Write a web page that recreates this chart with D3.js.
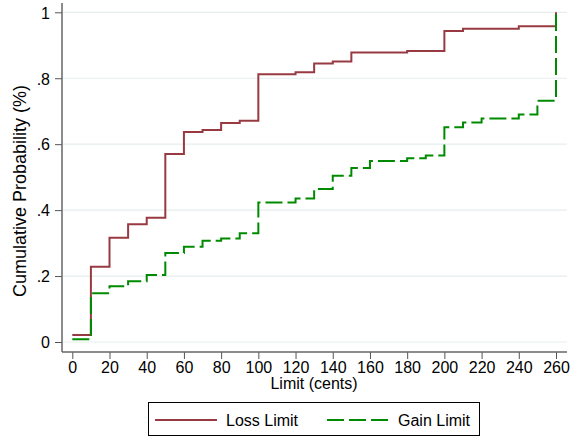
<!DOCTYPE html>
<html>
<head>
<meta charset="utf-8">
<script src="https://cdn.jsdelivr.net/npm/d3@7"></script>
<style>
  html, body { margin: 0; padding: 0; background: #fff; }
  svg { display: block; font-family: "Liberation Sans", Arial, Helvetica, sans-serif; }
</style>
</head>
<body>
<svg id="chart" width="577" height="437"></svg>
<script>
// limits in cents, cumulative share of subjects
const lossLimits = [0, 10, 20, 30, 40, 50, 60, 70, 80, 90, 100, 120, 130, 140, 150, 180, 200, 210, 240, 260];
const lossProb = [0.021, 0.228, 0.316, 0.357, 0.377, 0.570, 0.637, 0.643, 0.664, 0.671, 0.812, 0.818, 0.845, 0.851, 0.878, 0.883, 0.943, 0.950, 0.958, 1.0];

const gainLimits = [0, 10, 20, 30, 40, 50, 60, 70, 80, 90, 100, 120, 130, 140, 150, 160, 180, 190, 200, 210, 220, 240, 250, 260];
const gainProb = [0.008, 0.148, 0.169, 0.184, 0.203, 0.270, 0.289, 0.307, 0.314, 0.330, 0.423, 0.435, 0.464, 0.504, 0.528, 0.549, 0.557, 0.566, 0.651, 0.666, 0.678, 0.690, 0.732, 1.0];

const xTicks = d3.range(0, 261, 20);
const yTicks = [0, 0.2, 0.4, 0.6, 0.8, 1];
const yTickLabel = d => d === 0 ? '0' : d === 1 ? '1' : String(d).replace(/^0/, '');

const svg = d3.select('#chart');

// plot region edges
const plotLeft = 62, plotRight = 567, plotTop = 3, plotBottom = 352;

const x = d3.scaleLinear().domain([0, 260]).range([72.3, 556]);
const y = d3.scaleLinear().domain([0, 1]).range([342, 12.3]);

// gridlines
svg.append('g').selectAll('line')
  .data(yTicks)
  .enter().append('line')
  .attr('x1', plotLeft).attr('x2', plotRight)
  .attr('y1', d => y(d)).attr('y2', d => y(d))
  .attr('stroke', '#e6eef0')
  .attr('stroke-width', 1.2);

// the two step curves
const step = d3.line()
  .x(d => x(d[0]))
  .y(d => y(d[1]))
  .curve(d3.curveStepAfter);

svg.append('path')
  .datum(d3.zip(lossLimits, lossProb))
  .attr('d', step)
  .attr('fill', 'none')
  .attr('stroke', '#973a42')
  .attr('stroke-width', 2);

svg.append('path')
  .datum(d3.zip(gainLimits, gainProb))
  .attr('d', step)
  .attr('fill', 'none')
  .attr('stroke', '#008a00')
  .attr('stroke-width', 2)
  .attr('stroke-dasharray', '17,5');

// axes
const xAxis = svg.append('g')
  .attr('transform', `translate(0,${plotBottom})`)
  .call(d3.axisBottom(x).tickValues(xTicks).tickSize(7).tickSizeOuter(0).tickPadding(3));

const yAxis = svg.append('g')
  .attr('transform', `translate(${plotLeft},0)`)
  .call(d3.axisLeft(y).tickValues(yTicks).tickFormat(yTickLabel).tickSize(7).tickSizeOuter(0).tickPadding(5));

[xAxis, yAxis].forEach(g => {
  g.select('.domain').remove();
  g.selectAll('.tick line').attr('stroke', '#555');
  g.selectAll('.tick text')
    .attr('fill', '#000')
    .style('font-size', '16px')
    .style('font-family', '"Liberation Sans", Arial, Helvetica, sans-serif');
});
yAxis.selectAll('.tick text').attr('dy', '0.36em');

// axis lines across the full plot region
svg.append('line')
  .attr('x1', plotLeft).attr('x2', plotLeft).attr('y1', plotTop).attr('y2', plotBottom)
  .attr('stroke', '#666').attr('stroke-width', 1.5);
svg.append('line')
  .attr('x1', plotLeft).attr('x2', plotRight).attr('y1', plotBottom).attr('y2', plotBottom)
  .attr('stroke', '#666').attr('stroke-width', 1.5);

// titles
svg.append('text')
  .attr('x', 314).attr('y', 389)
  .attr('text-anchor', 'middle')
  .style('font-size', '16px')
  .text('Limit (cents)');

svg.append('text')
  .attr('transform', 'translate(26,191) rotate(-90)')
  .attr('text-anchor', 'middle')
  .style('font-size', '18px')
  .text('Cumulative Probability (%)');

// legend
const legend = svg.append('g');
legend.append('rect')
  .attr('x', 148.5).attr('y', 402.5)
  .attr('width', 331).attr('height', 33)
  .attr('fill', '#fff').attr('stroke', '#000').attr('stroke-width', 1);

const keys = [
  {label: 'Loss Limit', color: '#973a42', dash: null, x0: 155},
  {label: 'Gain Limit', color: '#008a00', dash: '17,5', x0: 327}
];
keys.forEach(k => {
  legend.append('line')
    .attr('x1', k.x0).attr('x2', k.x0 + 62)
    .attr('y1', 420).attr('y2', 420)
    .attr('stroke', k.color).attr('stroke-width', 2)
    .attr('stroke-dasharray', k.dash);
  legend.append('text')
    .attr('x', k.x0 + 71).attr('y', 425.5)
    .style('font-size', '16px')
    .text(k.label);
});
</script>
</body>
</html>
